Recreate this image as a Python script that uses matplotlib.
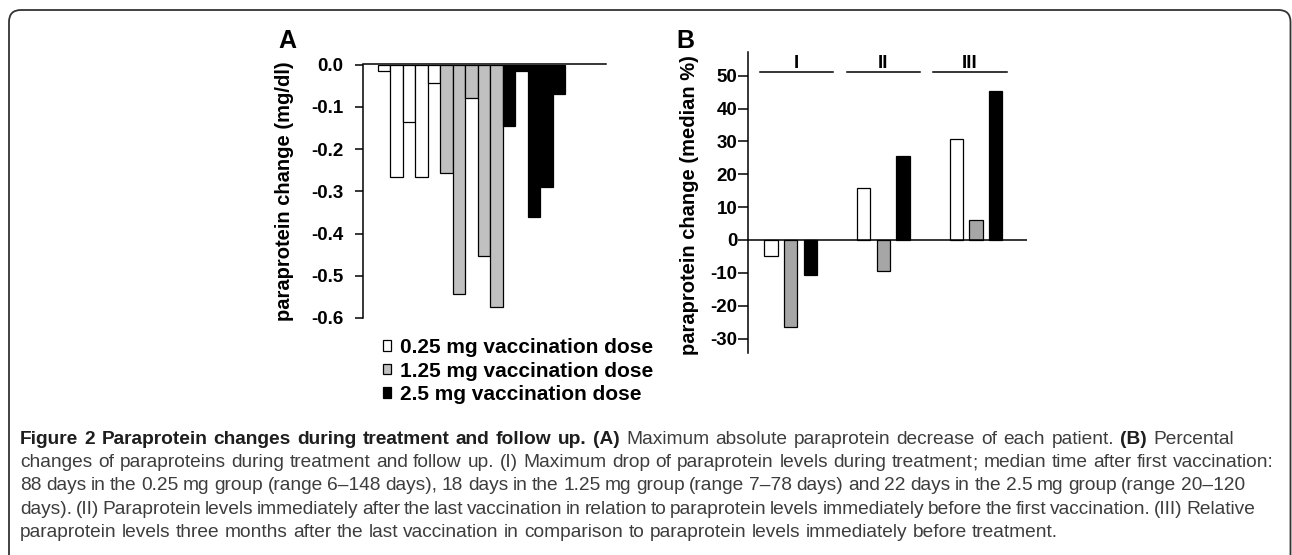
import numpy as np
import matplotlib
matplotlib.use("Agg")
import matplotlib.pyplot as plt
from matplotlib.patches import Patch, PathPatch
from matplotlib.path import Path
from matplotlib.ticker import FormatStrFormatter

W, H = 1292, 555

# Legend / dose groups
doseLabels = ["0.25 mg vaccination dose", "1.25 mg vaccination dose", "2.5 mg vaccination dose"]
doseColorsA = ["white", "#c0c0c0", "black"]
doseColorsB = ["white", "#a6a6a6", "black"]

# Panel A: maximum absolute paraprotein decrease per patient (mg/dl)
absLow = [-0.015, -0.267, -0.137, -0.267, -0.044]
absMid = [-0.257, -0.543, -0.080, -0.453, -0.573]
absHigh = [-0.145, -0.015, -0.361, -0.290, -0.070]
absTicks = [-0.6, -0.5, -0.4, -0.3, -0.2, -0.1, 0.0]

# Panel B: median percent change per phase
phaseLabels = ["I", "II", "III"]
pctLow = [-4.9, 15.9, 30.7]
pctMid = [-26.4, -9.3, 6.1]
pctHigh = [-10.6, 25.6, 45.4]
pctTicks = [-30, -20, -10, 0, 10, 20, 30, 40, 50]

# Caption, (text, bold) pieces per line
captionLines = [
    [("Figure 2 Paraprotein changes during treatment and follow up.", True), ("(A)", True),
     ("Maximum absolute paraprotein decrease of each patient.", False), ("(B)", True), ("Percental", False)],
    [("changes of paraproteins during treatment and follow up. (I) Maximum drop of paraprotein levels during treatment; median time after first vaccination:", False)],
    [("88 days in the 0.25 mg group (range 6\u2013148 days), 18 days in the 1.25 mg group (range 7\u201378 days) and 22 days in the 2.5 mg group (range 20\u2013120", False)],
    [("days). (II) Paraprotein levels immediately after the last vaccination in relation to paraprotein levels immediately before the first vaccination. (III) Relative", False)],
    [("paraprotein levels three months after the last vaccination in comparison to paraprotein levels immediately before treatment.", False)],
]
# right end of each caption line in the reference (pixels)
captionEnds = [1234, 1274, 1245, 1255, 1058]

plt.rcParams["font.family"] = ["Liberation Sans", "DejaVu Sans"]
plt.rcParams["font.weight"] = "bold"
plt.rcParams["axes.unicode_minus"] = False


def figRect(left, top, right, bottom):
    # pixel box (y down) -> figure fraction rect
    return [left / W, 1 - bottom / H, (right - left) / W, (bottom - top) / H]


fig = plt.figure(figsize=(W / 100, H / 100), dpi=100)

#Panel A
axA = fig.add_axes(figRect(362.5, 64.5, 606, 318))
absValues = absLow + absMid + absHigh
absColors = []
for color, vals in zip(doseColorsA, [absLow, absMid, absHigh]):
    absColors += [color] * len(vals)
axA.bar(np.arange(len(absValues)), absValues, width=1, align="edge",
        color=absColors, edgecolor="black", linewidth=0.9)
axA.set_xlim(-1.24, 18.28)
axA.set_ylim(-0.6, 0)
axA.set_yticks(absTicks)
axA.yaxis.set_major_formatter(FormatStrFormatter("%.1f"))
axA.set_xticks([])
for side in ["bottom", "right"]:
    axA.spines[side].set_visible(False)
axA.spines["top"].set_linewidth(1.1)
axA.spines["left"].set_linewidth(1.1)
axA.tick_params(axis="y", direction="out", length=5.5, width=1.1, labelsize=13.5, pad=8)

handles = [Patch(facecolor=c, edgecolor="black", linewidth=0.9, label=l)
           for c, l in zip(doseColorsA, doseLabels)]
axA.legend(handles=handles, loc="upper left", bbox_to_anchor=(383 / W, 1 - 338 / H),
           bbox_transform=fig.transFigure, frameon=False, borderpad=0, borderaxespad=0,
           handlelength=0.4, handleheight=0.4, handletextpad=0.42, labelspacing=0.22,
           prop={"weight": "bold", "size": 15})

#Panel B
axB = fig.add_axes(figRect(748.3, 51.7, 1027, 353))
groupCenters = np.arange(len(phaseLabels)) * 4.63 + 2.12
offsets = [-0.98, 0, 0.98]
for k, (vals, color) in enumerate(zip([pctLow, pctMid, pctHigh], doseColorsB)):
    axB.bar(groupCenters + offsets[k], vals, width=0.67, color=color,
            edgecolor="black", linewidth=0.9)
axB.axhline(0, color="black", linewidth=1.1)
axB.set_xlim(0, 13.93)
axB.set_ylim(-34.4, 57.3)
axB.set_yticks(pctTicks)
axB.set_xticks([])
for side in ["bottom", "right", "top"]:
    axB.spines[side].set_visible(False)
axB.spines["left"].set_linewidth(1.1)
axB.tick_params(axis="y", direction="out", length=7, width=1.1, labelsize=13.5, pad=1)

lineCenters = 2.4 + np.arange(len(phaseLabels)) * 4.34
for c, lab in zip(lineCenters, phaseLabels):
    axB.plot([c - 1.83, c + 1.83], [51.1, 51.1], color="black", linewidth=1.1, clip_on=False)
    axB.text(c, 52.3, lab, ha="center", va="baseline", fontsize=13.5, fontweight="bold")

# panel letters and axis titles
fig.text(287 / W, 1 - 48 / H, "A", ha="center", va="baseline", fontsize=18, fontweight="bold")
fig.text(685 / W, 1 - 48 / H, "B", ha="center", va="baseline", fontsize=18, fontweight="bold")
fig.text(285 / W, 1 - 191 / H, "paraprotein change (mg/dl)", rotation=90,
         ha="center", va="center", fontsize=14.5, fontweight="bold")
fig.text(689 / W, 1 - 205 / H, "paraprotein change (median %)", rotation=90,
         ha="center", va="center", fontsize=14.5, fontweight="bold")

#Caption
renderer = fig.canvas.get_renderer()
capFont = ["Liberation Sans Narrow", "Liberation Sans", "DejaVu Sans"]


def textWidth(s, size, bold):
    t = fig.text(0, 0, s, fontsize=size, family=capFont, fontweight="bold" if bold else "normal")
    w = t.get_window_extent(renderer).width
    t.remove()
    return w


def lineWords(pieces):
    words = []
    for s, bold in pieces:
        words += [(w, bold) for w in s.split(" ")]
    return words


def naturalWidth(pieces, size):
    space = textWidth("x x", size, False) - textWidth("xx", size, False)
    words = lineWords(pieces)
    return sum(textWidth(w, size, b) for w, b in words) + space * (len(words) - 1)


def putWord(x, y, word, size, bold):
    # a semicolon shifts the baseline of its text, so it gets its own text
    weight = "bold" if bold else "normal"
    color = "#1e1e1e" if bold else "#3d3d3d"
    parts = word.split(";")
    for j, part in enumerate(parts):
        if part:
            fig.text(x / W, 1 - y / H, part, fontsize=size, family=capFont, va="baseline",
                     fontweight=weight, color=color)
            x += textWidth(part, size, bold)
        if j < len(parts) - 1:
            fig.text(x / W, 1 - y / H, ";", fontsize=size, family=capFont, va="baseline",
                     fontweight=weight, color=color)
            x += textWidth(";", size, bold)


# one caption size: the median of the sizes that fit each line to its length
capSize = 11.0
fits = [capSize * (end - 20) / naturalWidth(p, capSize) for p, end in zip(captionLines, captionEnds)]
capSize = float(np.median(fits))

baseY = 443.7
for i, pieces in enumerate(captionLines):
    words = lineWords(pieces)
    widths = [textWidth(w, capSize, b) for w, b in words]
    gap = (captionEnds[i] - 20 - sum(widths)) / (len(words) - 1)
    x = 20
    y = baseY + i * 23.3
    for (w, bold), wd in zip(words, widths):
        putWord(x, y, w, capSize, bold)
        x += wd + gap

# rounded frame around the figure
r = 12
frame = [(9, H), (9, 10 + r), (9, 10), (9 + r, 10), (1290.5 - r, 10), (1290.5, 10), (1290.5, 10 + r), (1290.5, H)]
codes = [Path.MOVETO, Path.LINETO, Path.CURVE3, Path.CURVE3, Path.LINETO, Path.CURVE3, Path.CURVE3, Path.LINETO]
frame = [(px / W, 1 - py / H) for px, py in frame]
fig.add_artist(PathPatch(Path(frame, codes), fill=False, edgecolor="#333333", linewidth=1.3,
                         transform=fig.transFigure, clip_on=False))

fig.savefig("out.png", dpi=100)
